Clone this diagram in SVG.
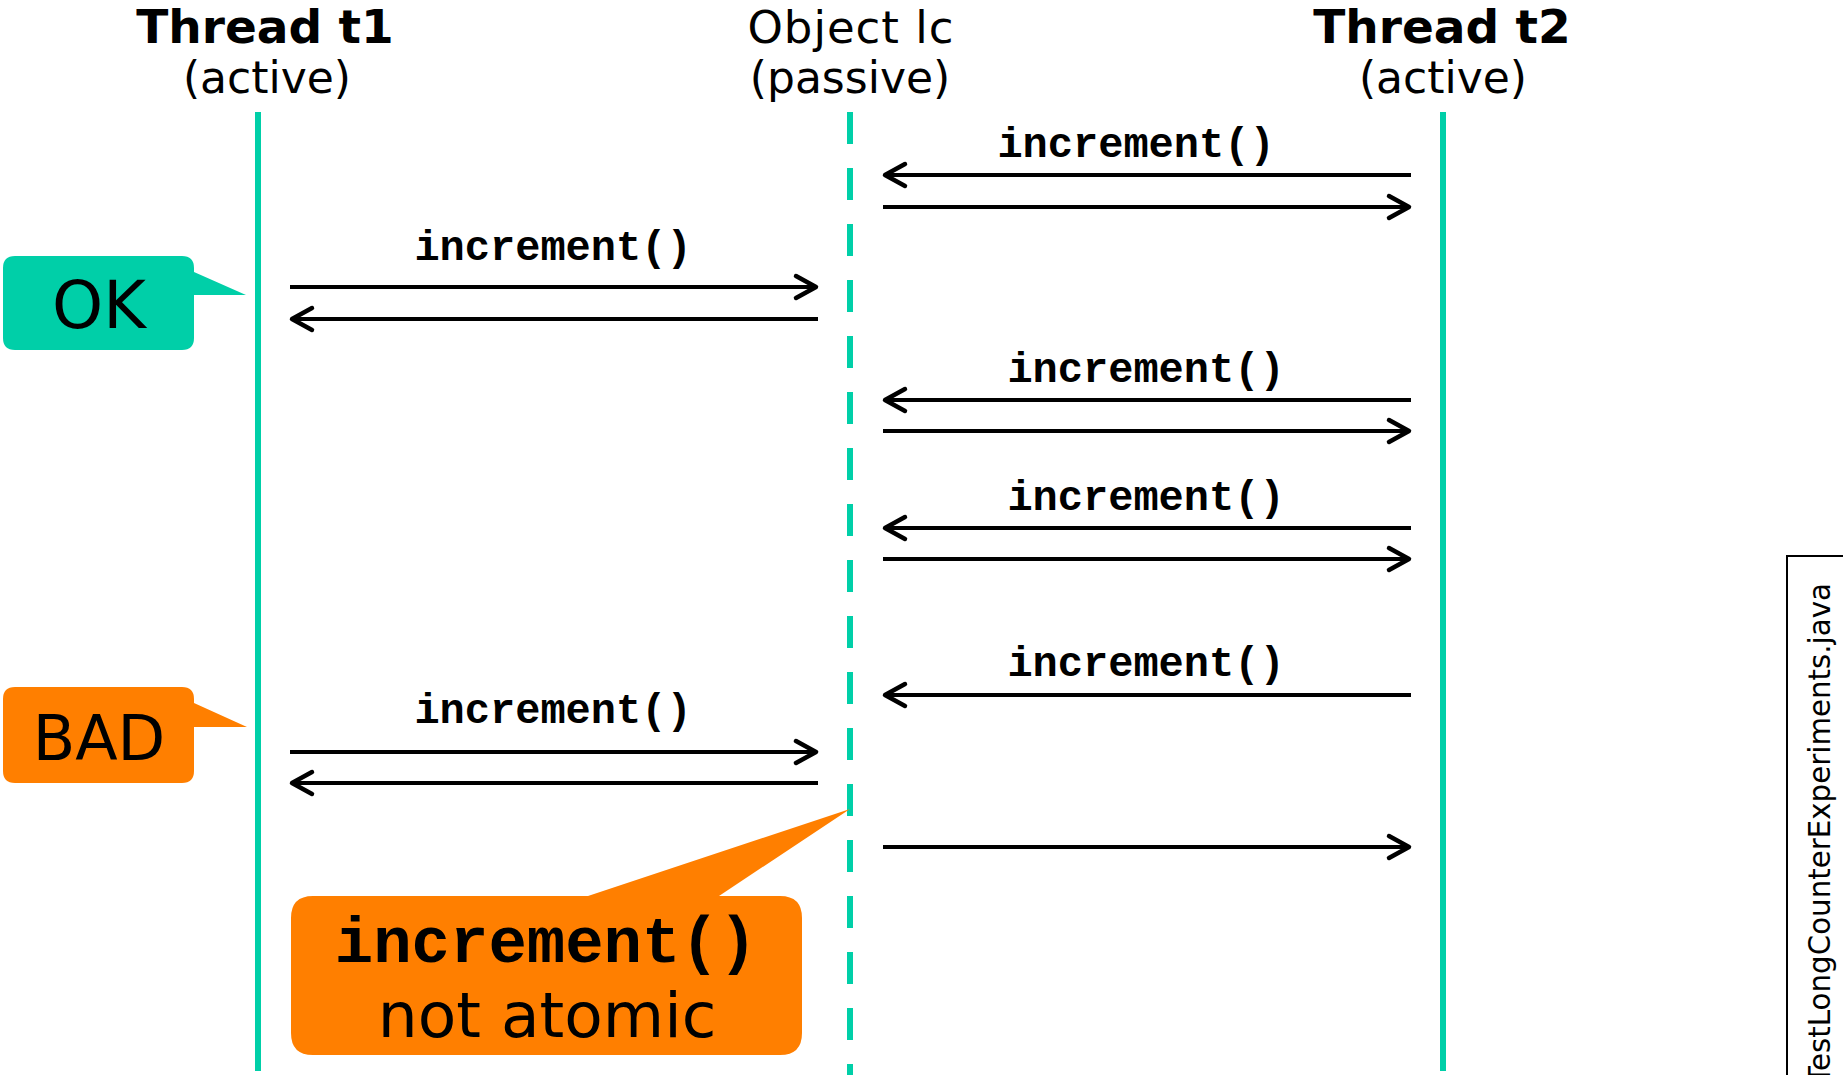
<svg xmlns="http://www.w3.org/2000/svg" width="1843" height="1075" viewBox="0 0 1843 1075">
<style>
.hdrb{font-family:"DejaVu Sans",Verdana,sans-serif;font-weight:bold;font-size:47px;fill:#000;text-anchor:middle}
.hdr{font-family:"DejaVu Sans",Verdana,sans-serif;font-size:44px;fill:#000;text-anchor:middle}
.lbl{font-family:"Liberation Mono","Courier New",monospace;font-weight:bold;font-size:42px;fill:#000;text-anchor:middle}
.life{stroke:#00CFA8;stroke-width:6;fill:none}
.msg{stroke:#000;stroke-width:4;fill:none;marker-end:url(#ah)}
.big{font-family:"DejaVu Sans",Verdana,sans-serif;font-size:63px;fill:#000;text-anchor:middle}
.bigm{font-family:"Liberation Mono","Courier New",monospace;font-weight:bold;font-size:64px;fill:#000;text-anchor:middle}
</style>
<defs>
<marker id="ah" markerUnits="userSpaceOnUse" viewBox="-30 -16 34 32" markerWidth="34" markerHeight="32" refX="0" refY="0" orient="auto">
<path d="M-21,-11 L-1,0 L-21,11" fill="none" stroke="#000" stroke-width="4.5" stroke-linecap="round" stroke-linejoin="round"/>
</marker>
</defs>
<rect width="1843" height="1075" fill="#fff"/>

<g id="t1">
<text class="hdrb" x="265" y="43">Thread t1</text>
<text class="hdr" x="267" y="93">(active)</text>
<line class="life" x1="258" y1="112" x2="258" y2="1071"/>
</g>
<g id="lc">
<text class="hdr" x="851" y="43" style="font-size:45px;letter-spacing:1px">Object lc</text>
<text class="hdr" x="850" y="93">(passive)</text>
<line class="life" x1="850" y1="112" x2="850" y2="1075" stroke-dasharray="32 24"/>
</g>
<g id="t2">
<text class="hdrb" x="1442" y="43">Thread t2</text>
<text class="hdr" x="1443" y="93">(active)</text>
<line class="life" x1="1443" y1="112" x2="1443" y2="1071"/>
</g>

<g id="connectors">
<text class="lbl" x="1136" y="157">increment()</text>
<line class="msg" x1="1411" y1="175" x2="884" y2="175"/>
<line class="msg" x1="883" y1="207" x2="1410" y2="207"/>

<text class="lbl" x="553" y="260">increment()</text>
<line class="msg" x1="290" y1="287" x2="817" y2="287"/>
<line class="msg" x1="818" y1="319" x2="291" y2="319"/>

<text class="lbl" x="1146" y="382">increment()</text>
<line class="msg" x1="1411" y1="400" x2="884" y2="400"/>
<line class="msg" x1="883" y1="431" x2="1410" y2="431"/>

<text class="lbl" x="1146" y="510">increment()</text>
<line class="msg" x1="1411" y1="528" x2="884" y2="528"/>
<line class="msg" x1="883" y1="559" x2="1410" y2="559"/>

<text class="lbl" x="1146" y="676">increment()</text>
<line class="msg" x1="1411" y1="695" x2="884" y2="695"/>

<text class="lbl" x="553" y="723">increment()</text>
<line class="msg" x1="290" y1="752" x2="817" y2="752"/>
<line class="msg" x1="818" y1="783" x2="291" y2="783"/>

<line class="msg" x1="883" y1="847" x2="1410" y2="847"/>
</g>

<g id="ok">
<path d="M15,256 H182 Q194,256 194,268 V272 L246,295 H194 V338 Q194,350 182,350 H15 Q3,350 3,338 V268 Q3,256 15,256 Z" fill="#00CFA8"/>
<text class="big" x="99" y="328" style="font-size:65px">OK</text>
</g>
<g id="bad">
<path d="M15,687 H182 Q194,687 194,699 V703 L247,727 H194 V771 Q194,783 182,783 H15 Q3,783 3,771 V699 Q3,687 15,687 Z" fill="#FF7F00"/>
<text class="big" x="99" y="760" style="font-size:62px">BAD</text>
</g>
<g id="notatomic">
<path d="M313,896 H588 L850,809 L719,896 H780 Q802,896 802,918 V1033 Q802,1055 780,1055 H313 Q291,1055 291,1033 V918 Q291,896 313,896 Z" fill="#FF7F00"/>
<text class="bigm" x="546" y="962">increment()</text>
<text class="big" x="547" y="1037">not atomic</text>
</g>

<g id="filelabel">
<rect x="1787" y="556" width="80" height="540" fill="none" stroke="#000" stroke-width="2"/>
<text transform="translate(1830,583) rotate(-90)" text-anchor="end" style="font-family:'DejaVu Sans',Verdana,sans-serif;font-size:29.3px;fill:#000">TestLongCounterExperiments.java</text>
</g>
</svg>
